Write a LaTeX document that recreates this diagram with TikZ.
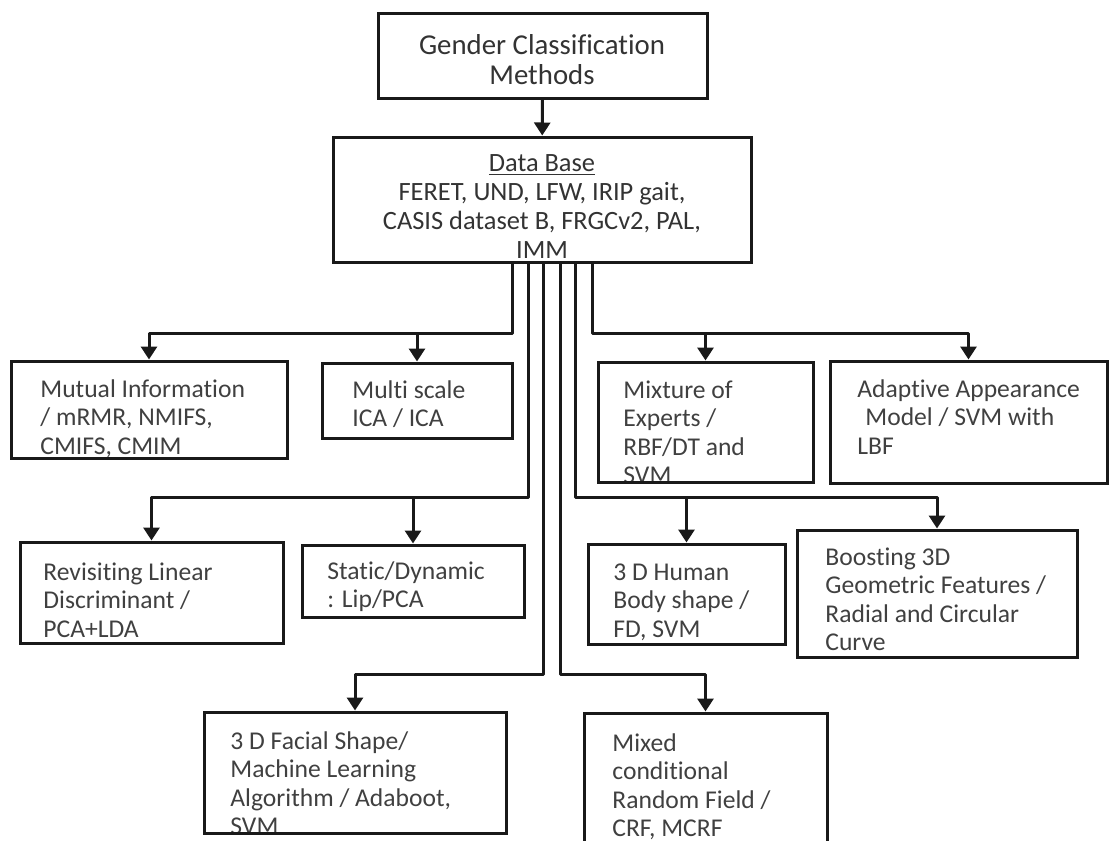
\documentclass[tikz,border=0pt]{standalone}
\usepackage{fontspec}
\setmainfont{Carlito}[Ligatures=NoCommon]
\usetikzlibrary{arrows.meta,fit}

\tikzset{
  mbox/.style={draw=black!90, line width=1.5pt, inner sep=0pt},
  mtext/.style={anchor=north west, inner sep=0pt, align=left, text=black!75,
    font=\fontsize{12.8}{14.3}\selectfont, execute at begin node=\strut},
  htext/.style={anchor=north, inner sep=0pt, align=center, text=black!80,
    font=\fontsize{14.4}{15}\selectfont, execute at begin node=\strut},
  dbtext/.style={anchor=north, inner sep=0pt, align=center, text=black!80,
    font=\fontsize{13.2}{14.5}\selectfont, execute at begin node=\strut},
  conn/.style={draw=black!90, line width=1.5pt, line join=round,
    -{Triangle[width=8pt,length=6.5pt]}},
}

% box from corner to corner, text clipped to the box
\newcommand{\textbox}[6][mtext]{%
  \coordinate (#2-nw) at (#3);
  \coordinate (#2-se) at (#4);
  \begin{scope}
    \clip (#2-nw) rectangle (#2-se);
    \node[#1] (#2-txt) at (#5) {#6};
  \end{scope}
  \node[mbox, fit=(#2-nw)(#2-se)] (#2) {};
}

\begin{document}
\begin{tikzpicture}[x=0.5pt, y=-0.5pt]
  \useasboundingbox (0,0) rectangle (1110,841);

  % top and data base
  \textbox[htext]{gc}{378,13}{707,98}{542,34}{Gender Classification\\Methods}
  \textbox[dbtext]{db}{333,137}{751,262}{542,154}{\underline{Data Base}\\FERET, UND, LFW, IRIP gait,\\CASIS dataset B, FRGCv2, PAL,\\IMM}

  % first row
  \textbox{mi}{11,361}{287,458}{40,379}{Mutual Information\\/ mRMR, NMIFS,\\CMIFS, CMIM}
  \textbox{ms}{322,363}{512,438}{352,380}{Multi scale\\ICA / ICA}
  \textbox{me}{598,362}{813,482}{623,380}{Mixture of\\Experts /\\RBF/DT and\\SVM}
  \textbox{aa}{830,361}{1107,483}{857,379}{Adaptive Appearance\\\hspace*{4pt}Model / SVM with\\LBF}

  % second row
  \textbox{rl}{20,542}{283,643}{43,562}{Revisiting Linear\\Discriminant /\\PCA+LDA}
  \textbox{sd}{302,545}{524,617}{327,561}{Static/Dynamic\\: Lip/PCA}
  \textbox{hb}{588,544}{785,644}{613,563}{3 D Human\\Body shape /\\FD, SVM}
  \textbox{bg}{797,530}{1077,657}{825,547}{Boosting 3D\\Geometric Features /\\Radial and Circular\\Curve}

  % third row
  \textbox{fs}{204,712}{506,833}{230,731}{3 D Facial Shape/\\Machine Learning\\Algorithm / Adaboot,\\SVM}
  \textbox{mc}{584,713}{827,860}{612,733}{Mixed\\conditional\\Random Field /\\CRF, MCRF}

  % bus levels
  \coordinate (r1) at (0,333);
  \coordinate (r2) at (0,497);
  \coordinate (r3) at (0,674);

  % connectors
  \draw[conn] (gc) -- (db);
  \draw[conn] ([xshift=-15pt]db.south) |- (mi.north |- r1) -- (mi.north);
  \draw[conn] (ms.north |- r1) -- (ms.north);
  \draw[conn] ([xshift=25pt]db.south) |- (aa.north |- r1) -- (aa.north);
  \draw[conn] (me.north |- r1) -- (me.north);
  \draw[conn] ([xshift=-7pt]db.south) |- (rl.north |- r2) -- (rl.north);
  \draw[conn] (sd.north |- r2) -- (sd.north);
  \draw[conn] ([xshift=16.5pt]db.south) |- (bg.north |- r2) -- (bg.north);
  \draw[conn] (hb.north |- r2) -- (hb.north);
  \draw[conn] ([xshift=0.5pt]db.south) |- (fs.north |- r3) -- (fs.north);
  \draw[conn] ([xshift=9pt]db.south) |- (mc.north |- r3) -- (mc.north);
\end{tikzpicture}
\end{document}
